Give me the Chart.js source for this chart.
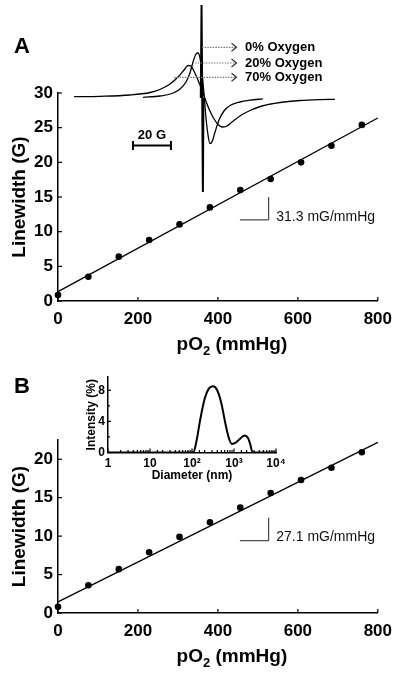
<!DOCTYPE html>
<html>
<head>
<meta charset="utf-8">
<script src="https://cdn.jsdelivr.net/npm/chart.js@4.4.1/dist/chart.umd.min.js"></script>
<style>
    html, body { margin: 0; padding: 0; background: #fff; }
    #wrap { position: relative; width: 400px; height: 676px; overflow: hidden; }
    #wrap canvas { position: absolute; }
    .panel { position: absolute; font: bold 22px 'Liberation Sans', Arial, sans-serif; line-height: 22px; color: #000; }
</style>
</head>
<body>
<div id="wrap">
    <canvas id="chartA" width="400" height="360" style="left:0;top:0"></canvas>
    <canvas id="spectra" width="300" height="200" style="left:60px;top:-2px"></canvas>
    <canvas id="chartB" width="400" height="316" style="left:0;top:360px"></canvas>
    <canvas id="dls" width="240" height="130" style="left:60px;top:360px"></canvas>
    <div class="panel" style="left:14px;top:35px">A</div>
    <div class="panel" style="left:14px;top:375px">B</div>
</div>
<script>
var FONT = "'Liberation Sans', Arial, sans-serif";

// pO2 steps (mmHg) and measured linewidths (G)
var pO2 = [0, 76, 152, 228, 304, 380, 456, 532, 608, 684, 760];
var lwA = [0.85, 3.5, 6.4, 8.8, 11.05, 13.5, 16.0, 17.6, 20.0, 22.4, 25.4];
var lwB = [0.8, 3.6, 5.7, 7.9, 9.9, 11.8, 13.7, 15.6, 17.3, 18.9, 20.9];
// linear fits
var fitX = [0, 800];
var fitA = [1.35, 26.4];
var fitB = [1.45, 22.2];

// EPR spectra (field in G, signal arb.)
var field70 = [7.4, 21.1, 36.8, 47.4, 52.6, 57.9, 62.1, 65.3, 67.4, 68.9, 70.5, 72.6, 74.7, 76.8, 78.9, 81.1, 83.2, 85.3, 87.4, 90.5, 94.7, 100, 106.3, 115.8, 126.3, 136.8, 144.7];
var sig70 = [1.3, 1.7, 3.0, 5.5, 8.5, 14, 21, 28, 32.5, 32, 27, 18, 8, -3, -13, -21, -26.5, -29, -28.5, -24, -18, -12.5, -8, -4.5, -2.5, -1.6, -1.3];
var field20 = [43.7, 52.6, 58.9, 63.2, 66.3, 68.4, 70, 71.6, 72.6, 73.7, 74.7, 75.8, 76.8, 77.9, 78.9, 80, 81.6, 83.7, 86.3, 89.5, 94.7, 100, 106.8];
var sig20 = [0.7, 2, 4.5, 9, 16, 25, 36, 44, 45, 40, 26, 4, -19, -37, -45.5, -44, -34, -22, -13, -7.5, -4, -2.2, -0.8];
var field0 = [74.1, 74.5, 75.2, 75.5];
var sig0 = [0, 93, -94, 0];

// DLS size distribution
var diameter = [1, 107, 126, 158, 200, 251, 316, 398, 501, 631, 759, 891, 1122, 1413, 1778, 2138, 2455, 2754, 10000];
var intensity = [0, 0, 1.3, 4.3, 6.9, 8.2, 8.5, 8.0, 6.3, 3.6, 1.8, 1.1, 1.3, 1.8, 2.2, 1.9, 1.0, 0, 0];

// annotations
var oxygenLabels = ['0% Oxygen', '20% Oxygen', '70% Oxygen'];
var arrowLevels = [50.7, 35, 20.7];
var arrowFrom = [74.7, 71.1, 60];
var arrowTo = 92.9;
var labelFrom = 97.4;
var scaleBarG = [38.4, 58.4];
var scaleBarV = -47.5;
var slopeA = { x: [455, 527], y: [11.7, 15.0], tx: 546, ty: 12.1, text: '31.3 mG/mmHg' };
var slopeB = { x: [455, 527], y: [9.4, 12.4], tx: 546, ty: 9.9, text: '27.1 mG/mmHg' };

Chart.defaults.font.family = FONT;
Chart.defaults.color = '#000';

var xy = function (xs, ys) {
    return xs.map(function (v, i) { return { x: v, y: ys[i] }; });
};

// short tick marks drawn inside the axes
var innerTicks = {
    id: 'innerTicks',
    afterDatasetsDraw: function (chart, args, opts) {
        var ctx = chart.ctx;
        ctx.save();
        ctx.strokeStyle = '#000';
        ctx.lineWidth = 1.2;
        ['x', 'y'].forEach(function (id) {
            var o = opts[id], s = chart.scales[id];
            if (!o || !s) return;
            s.ticks.forEach(function (t) {
                var v = t.value, major = true;
                if (o.log) major = Math.abs(Math.log10(v) - Math.round(Math.log10(v))) < 1e-6;
                else if (o.every) major = Math.abs(v % o.every) < 1e-6;
                var len = major ? o.major : o.minor;
                var p = s.getPixelForValue(v);
                ctx.beginPath();
                if (id === 'x') { ctx.moveTo(p, s.top); ctx.lineTo(p, s.top - len); }
                else { ctx.moveTo(s.right, p); ctx.lineTo(s.right + len, p); }
                ctx.stroke();
            });
        });
        ctx.restore();
    }
};

// pO2 title with a real subscript
var xTitle = {
    id: 'xTitle',
    afterDraw: function (chart, args, o) {
        var ctx = chart.ctx, a = chart.chartArea;
        var big = 'bold 19px ' + FONT, small = 'bold 13px ' + FONT;
        ctx.save();
        ctx.fillStyle = '#000';
        ctx.textBaseline = 'middle';
        ctx.textAlign = 'left';
        ctx.font = big;
        var w1 = ctx.measureText('pO').width, w3 = ctx.measureText(' (mmHg)').width;
        ctx.font = small;
        var w2 = ctx.measureText('2').width;
        var x = (a.left + a.right) / 2 + o.dx - (w1 + w2 + w3) / 2, y = a.bottom + o.dy;
        ctx.font = big; ctx.fillText('pO', x, y); x += w1;
        ctx.font = small; ctx.fillText('2', x, y + 6); x += w2;
        ctx.font = big; ctx.fillText(' (mmHg)', x, y);
        ctx.restore();
    }
};

var slopeMark = {
    id: 'slopeMark',
    afterDatasetsDraw: function (chart, args, o) {
        var m = o.mark, sx = chart.scales.x, sy = chart.scales.y, ctx = chart.ctx;
        var x0 = sx.getPixelForValue(m.x[0]), x1 = sx.getPixelForValue(m.x[1]);
        var y0 = sy.getPixelForValue(m.y[0]), y1 = sy.getPixelForValue(m.y[1]);
        ctx.save();
        ctx.strokeStyle = '#222';
        ctx.lineWidth = 1;
        ctx.beginPath();
        ctx.moveTo(x0, y0); ctx.lineTo(x1, y0); ctx.lineTo(x1, y1);
        ctx.stroke();
        ctx.font = '14px ' + FONT;
        ctx.fillStyle = '#111';
        ctx.textBaseline = 'middle';
        ctx.fillText(m.text, sx.getPixelForValue(m.tx), sy.getPixelForValue(m.ty));
        ctx.restore();
    }
};

var makeMain = function (id, lw, fit, cfg) {
    return new Chart(document.getElementById(id), {
        type: 'scatter',
        data: {
            datasets: [{
                data: xy(pO2, lw),
                pointRadius: 3.3,
                backgroundColor: '#000',
                borderWidth: 0,
                clip: false
            }, {
                type: 'line',
                data: xy(fitX, fit),
                borderColor: '#000',
                borderWidth: 1.3,
                pointRadius: 0,
                clip: false
            }]
        },
        options: {
            responsive: false,
            animation: false,
            layout: { padding: { top: cfg.top, right: cfg.right, left: 0, bottom: 0 } },
            plugins: {
                legend: { display: false },
                tooltip: { enabled: false },
                innerTicks: { x: { major: 4 }, y: { major: 4 } },
                xTitle: { dx: 14, dy: 44 },
                slopeMark: { mark: cfg.mark }
            },
            scales: {
                x: {
                    type: 'linear', min: 0, max: 800,
                    ticks: { stepSize: 200, padding: 8, font: { size: 17, weight: 'bold' } },
                    grid: { display: false, drawTicks: false },
                    border: { color: '#000', width: 1.5 },
                    afterFit: function (s) { s.height = cfg.xh; }
                },
                y: {
                    min: 0, max: cfg.ymax,
                    ticks: { stepSize: 5, padding: 5, includeBounds: false, font: { size: 17, weight: 'bold' } },
                    grid: { display: false, drawTicks: false },
                    border: { color: '#000', width: 1.5 },
                    title: { display: true, text: 'Linewidth (G)', padding: { top: 8.5, bottom: 0 }, font: { size: 19, weight: 'bold' } },
                    afterFit: function (s) { s.width = 58; }
                }
            }
        },
        plugins: [innerTicks, xTitle, slopeMark]
    });
};

makeMain('chartA', lwA, fitA, { top: 93, right: 20, xh: 59, ymax: 30, mark: slopeA });
makeMain('chartB', lwB, fitB, { top: 80, right: 19, xh: 63, ymax: 22.5, mark: slopeB });

// arrows, labels and 20 G bar on the spectra inset
var spectraNotes = {
    id: 'spectraNotes',
    afterDatasetsDraw: function (chart) {
        var xs = chart.scales.x, ys = chart.scales.y, ctx = chart.ctx;
        ctx.save();
        arrowLevels.forEach(function (v, i) {
            var yp = ys.getPixelForValue(v);
            var a = xs.getPixelForValue(arrowFrom[i]), b = xs.getPixelForValue(arrowTo);
            ctx.strokeStyle = '#777';
            ctx.lineWidth = 1.2;
            ctx.setLineDash([1.5, 1.2]);
            ctx.beginPath(); ctx.moveTo(a, yp); ctx.lineTo(b, yp); ctx.stroke();
            ctx.setLineDash([]);
            ctx.strokeStyle = '#333';
            ctx.beginPath(); ctx.moveTo(b - 5, yp - 4); ctx.lineTo(b, yp); ctx.lineTo(b - 5, yp + 4); ctx.stroke();
            ctx.fillStyle = '#000';
            ctx.font = 'bold 13px ' + FONT;
            ctx.textBaseline = 'middle';
            ctx.textAlign = 'left';
            ctx.fillText(oxygenLabels[i], xs.getPixelForValue(labelFrom), yp);
        });
        var b0 = xs.getPixelForValue(scaleBarG[0]), b1 = xs.getPixelForValue(scaleBarG[1]);
        var yb = ys.getPixelForValue(scaleBarV);
        ctx.strokeStyle = '#000';
        ctx.lineWidth = 2;
        ctx.beginPath();
        ctx.moveTo(b0, yb); ctx.lineTo(b1, yb);
        ctx.moveTo(b0, yb - 4.5); ctx.lineTo(b0, yb + 4.5);
        ctx.moveTo(b1, yb - 4.5); ctx.lineTo(b1, yb + 4.5);
        ctx.stroke();
        ctx.font = 'bold 13px ' + FONT;
        ctx.textAlign = 'center';
        ctx.textBaseline = 'middle';
        ctx.fillText('20 G', (b0 + b1) / 2, yb - 10.5);
        ctx.restore();
    }
};

var specLine = function (fx, sg, w, mono) {
    return {
        data: xy(fx, sg),
        showLine: true,
        borderColor: '#000',
        borderWidth: w,
        pointRadius: 0,
        cubicInterpolationMode: mono ? 'monotone' : 'default',
        tension: 0,
        clip: false
    };
};

new Chart(document.getElementById('spectra'), {
    type: 'scatter',
    data: {
        datasets: [
            specLine(field70, sig70, 1.3, true),
            specLine(field20, sig20, 1.3, true),
            specLine(field0, sig0, 2, false)
        ]
    },
    options: {
        responsive: false,
        animation: false,
        layout: { padding: 0 },
        plugins: { legend: { display: false }, tooltip: { enabled: false } },
        scales: {
            x: { type: 'linear', display: false, min: 0, max: 300 / 1.9 },
            y: { type: 'linear', display: false, min: -100, max: 100 }
        }
    },
    plugins: [spectraNotes]
});

// DLS inset
var powLabels = { 1: '1', 10: '10', 100: '10\u00b2', 1000: '10\u00b3', 10000: '10\u2074' };
new Chart(document.getElementById('dls'), {
    type: 'line',
    data: {
        datasets: [{
            data: xy(diameter, intensity),
            borderColor: '#000',
            borderWidth: 2,
            pointRadius: 0,
            cubicInterpolationMode: 'monotone'
        }]
    },
    options: {
        responsive: false,
        animation: false,
        layout: { padding: { top: 17, right: 24, left: 0, bottom: 0 } },
        plugins: {
            legend: { display: false },
            tooltip: { enabled: false },
            innerTicks: { x: { log: true, major: 4, minor: 2.5 }, y: { every: 4, major: 3, minor: 2 } }
        },
        scales: {
            x: {
                type: 'logarithmic', min: 1, max: 10000,
                ticks: {
                    autoSkip: false, maxRotation: 0, padding: 4,
                    font: { size: 12, weight: 'bold' },
                    callback: function (v) { var l = powLabels[Math.round(v)]; return l === undefined ? '' : l; }
                },
                grid: { display: false, drawTicks: false },
                border: { color: '#000', width: 1.5 },
                title: { display: true, text: 'Diameter (nm)', padding: { top: 0, bottom: 7.5 }, font: { size: 12, weight: 'bold' } },
                afterFit: function (s) { s.height = 37.5; }
            },
            y: {
                min: 0, max: 9.7,
                ticks: {
                    stepSize: 1, padding: 3, includeBounds: false,
                    font: { size: 12, weight: 'bold' },
                    callback: function (v) { return v % 4 === 0 ? v : ''; }
                },
                grid: { display: false, drawTicks: false },
                border: { color: '#000', width: 1.5 },
                title: { display: true, text: 'Intensity (%)', padding: { top: 24, bottom: 0 }, font: { size: 12, weight: 'bold' } },
                afterFit: function (s) { s.width = 48; }
            }
        }
    },
    plugins: [innerTicks]
});
</script>
</body>
</html>
